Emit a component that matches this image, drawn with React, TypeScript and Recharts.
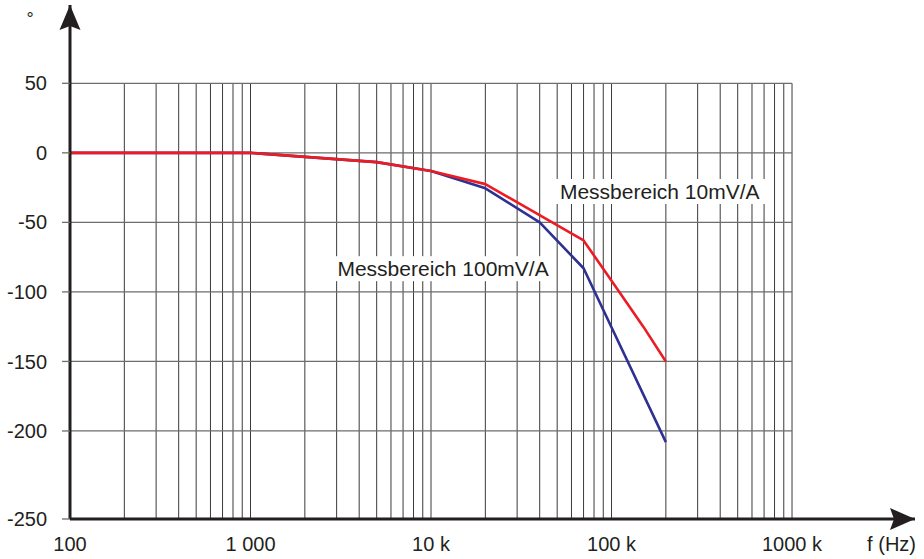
import React from 'react';
import { LineChart, Line, XAxis, YAxis, ReferenceLine, ReferenceDot } from 'recharts';

// ---- data ----
const RED_FREQ = [100, 1000, 5000, 10000, 20000, 70000, 100000, 150000, 200000];
const RED_PHASE = [0, 0, -6.7, -13, -22.5, -63, -92, -125, -150];

const BLUE_FREQ = [100, 1000, 5000, 10000, 20000, 40000, 70000, 200000];
const BLUE_PHASE = [0, 0, -6.7, -13, -25.5, -50, -83, -208];

const FREQ_TICKS = [100, 1000, 10000, 100000, 1000000];
const FREQ_TICK_LABELS = ['100', '1 000', '10 k', '100 k', '1000 k'];

const GRID_FREQS = [
  200, 300, 400, 500, 600, 700, 800, 900,
  1000, 2000, 3000, 4000, 5000, 6000, 7000, 8000, 9000,
  10000, 20000, 30000, 40000, 50000, 60000, 70000, 80000, 90000,
  100000, 200000, 300000, 400000, 500000, 600000, 700000, 800000, 900000,
  1000000,
];
const PHASE_GRID = [50, 0, -50, -100, -150, -200];

// axis extents (the bottom axis carries the "-250" label)
const F_MIN = 100;
const F_MAX = 4.8e6;
const F_GRID_MAX = 1000000;
const PHASE_TOP = 106.3;
const PHASE_FLOOR = -263.3;
const PHASE_TICKS = [PHASE_FLOOR, -200, -150, -100, -50, 0, 50];
const PHASE_TICK_LABELS = ['-250', '-200', '-150', '-100', '-50', '0', '50'];

const LABEL_10 = { text: 'Messbereich 10mV/A', f: 185000, phase: -27.8 };
const LABEL_100 = { text: 'Messbereich 100mV/A', f: 11660, phase: -83.3 };

const redData = RED_FREQ.map((f, i) => ({ f, y: RED_PHASE[i] }));
const blueData = BLUE_FREQ.map((f, i) => ({ f, y: BLUE_PHASE[i] }));

const INK = '#231f20';
const FONT = '"Liberation Sans", Arial, Helvetica, sans-serif';

const ArrowUp = (props: any) => {
  const { cx, cy } = props;
  return (
    <path
      d={`M${cx},${cy} L${cx + 10.5},${cy + 25} L${cx},${cy + 21} L${cx - 10.5},${cy + 25} Z`}
      fill={INK}
    />
  );
};

const ArrowRight = (props: any) => {
  const { cx, cy } = props;
  return (
    <path
      d={`M${cx},${cy} L${cx - 25},${cy - 11} L${cx - 21},${cy} L${cx - 25},${cy + 11} Z`}
      fill={INK}
    />
  );
};

const makeLabel = (text: string) => (props: any) => {
  const { cx, cy } = props;
  const fs = 21;
  const w = text.length * 0.53 * fs + 12;
  const h = 25;
  return (
    <g>
      <rect x={cx - w / 2} y={cy - h / 2} width={w} height={h} fill="#fff" />
      <text
        x={cx}
        y={cy}
        dy="0.36em"
        textAnchor="middle"
        fontSize={fs}
        fontFamily={FONT}
        fill={INK}
      >
        {text}
      </text>
    </g>
  );
};

export default function App() {
  return (
    <div style={{ position: 'absolute', left: 0, top: 0, background: '#fff' }}>
      <LineChart
        width={924}
        height={559}
        margin={{ top: 5, right: 9, left: 0, bottom: 0 }}
      >
        <XAxis
          dataKey="f"
          type="number"
          scale="log"
          domain={[F_MIN, F_MAX]}
          allowDataOverflow
          ticks={FREQ_TICKS}
          tickFormatter={(v: number, i: number) => FREQ_TICK_LABELS[i]}
          height={40}
          tickLine={false}
          tickSize={6}
          tickMargin={12}
          axisLine={{ stroke: INK, strokeWidth: 3 }}
          tick={{ fontSize: 20, fontFamily: FONT, fill: INK }}
          label={{
            content: (p: any) => {
              const vb = p.viewBox;
              return (
                <text
                  x={vb.x + vb.width + 1}
                  y={vb.y + 32}
                  textAnchor="end"
                  fontSize={20}
                  fontFamily={FONT}
                  fill={INK}
                >
                  f (Hz)
                </text>
              );
            },
          }}
        />
        <YAxis
          type="number"
          domain={[PHASE_FLOOR, PHASE_TOP]}
          allowDataOverflow
          ticks={PHASE_TICKS}
          tickFormatter={(v: number, i: number) => PHASE_TICK_LABELS[i]}
          width={70}
          tickSize={8}
          tickMargin={15}
          tickLine={{ stroke: '#6d6d6d', strokeWidth: 1.3 }}
          axisLine={{ stroke: INK, strokeWidth: 3 }}
          tick={{ fontSize: 20, fontFamily: FONT, fill: INK }}
          label={{
            content: (p: any) => {
              const vb = p.viewBox;
              return (
                <text
                  x={vb.x + 30}
                  y={vb.y + 20}
                  textAnchor="middle"
                  fontSize={18}
                  fontFamily={FONT}
                  fill={INK}
                >
                  °
                </text>
              );
            },
          }}
        />

        {GRID_FREQS.map((g) => (
          <ReferenceLine
            key={'v' + g}
            segment={[
              { x: g, y: PHASE_GRID[0] },
              { x: g, y: PHASE_FLOOR },
            ]}
            stroke="#3a3a3a"
            strokeWidth={1}
          />
        ))}
        {PHASE_GRID.map((p) => (
          <ReferenceLine
            key={'h' + p}
            segment={[
              { x: F_MIN, y: p },
              { x: F_GRID_MAX, y: p },
            ]}
            stroke="#6d6d6d"
            strokeWidth={1.3}
          />
        ))}

        <ReferenceDot
          x={LABEL_10.f}
          y={LABEL_10.phase}
          r={0}
          ifOverflow="visible"
          shape={makeLabel(LABEL_10.text)}
        />
        <ReferenceDot
          x={LABEL_100.f}
          y={LABEL_100.phase}
          r={0}
          ifOverflow="visible"
          shape={makeLabel(LABEL_100.text)}
        />

        <Line
          data={blueData}
          dataKey="y"
          stroke="#2e3192"
          strokeWidth={2.6}
          dot={false}
          isAnimationActive={false}
          strokeLinejoin="round"
        />
        <Line
          data={redData}
          dataKey="y"
          stroke="#ec1c24"
          strokeWidth={2.6}
          dot={false}
          isAnimationActive={false}
          strokeLinejoin="round"
        />

        <ReferenceDot x={F_MIN} y={PHASE_TOP} r={0} ifOverflow="visible" shape={ArrowUp} />
        <ReferenceDot x={F_MAX} y={PHASE_FLOOR} r={0} ifOverflow="visible" shape={ArrowRight} />
      </LineChart>
    </div>
  );
}
